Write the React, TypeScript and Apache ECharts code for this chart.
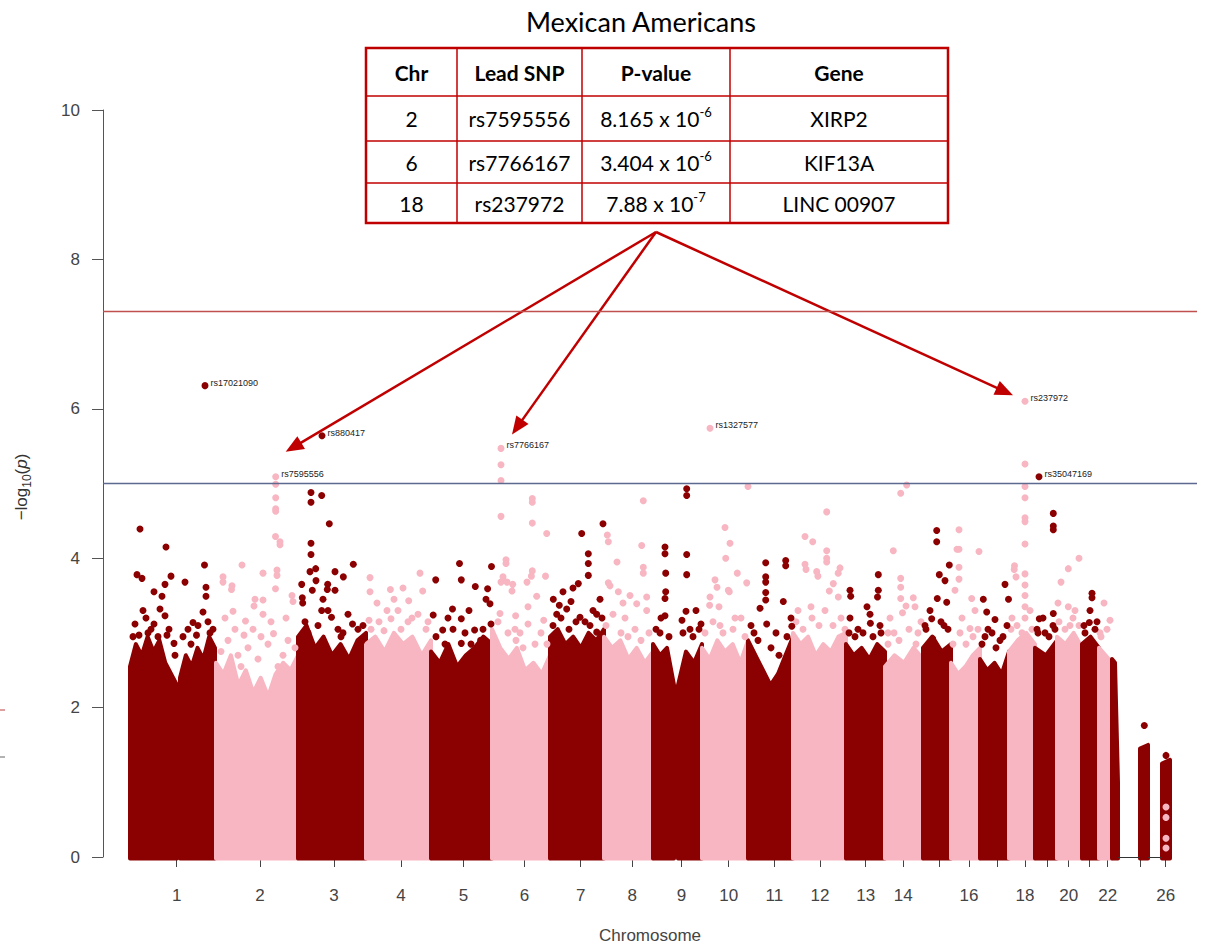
import React, { useEffect, useRef } from 'react';
import * as echarts from 'echarts';

// ---------------- DATA ----------------
// x positions are cumulative genome positions in plot units (0..1094)
const chromosomes = ['1','2','3','4','5','6','7','8','9','10','11','12','13','14','15','16','17','18','19','20','21','22','23','26'];
const chrTickPos = [73.7,157,231,298,360.5,421.5,477.7,529.3,578.5,625.7,671.3,717,762.7,800.3,836.3,866,894.7,922,944.7,965.7,986.3,1004.7,1037,1062.7];
const chrTickLabels = ['1','2','3','4','5','6','7','8','9','10','11','12','13','14','','16','','18','','20','','22','','26'];
const chrColorKey = ['d','p','d','p','d','p','d','p','d','p','d','p','d','p','d','p','d','p','d','p','d','p','d','d'];

// dense body of each chromosome: [chromosome index, start, end, top profile of -log10(p)]
const bodySegments: [number, number, number, number[]][] = [
  [0, 27, 74, [2.55, 2.85, 2.7, 2.95, 2.75, 2.9, 2.6, 2.45, 2.3]],
  [0, 77, 112, [2.4, 2.7, 2.55, 2.8, 2.65, 2.95, 2.8]],
  [1, 113, 195, [2.6, 2.45, 2.7, 2.3, 2.5, 2.2, 2.4, 2.15, 2.45, 2.6, 2.5, 2.7]],
  [2, 195, 263, [2.95, 3.1, 2.8, 2.95, 2.7, 2.85, 2.65, 2.9, 3.0]],
  [3, 263, 328, [2.85, 2.95, 2.75, 3.0, 2.85, 2.95, 2.7, 2.9]],
  [4, 328, 389, [2.75, 2.6, 2.85, 2.55, 2.7, 2.8, 2.95, 2.85]],
  [5, 389, 447, [3.05, 2.8, 2.65, 2.8, 2.5, 2.6, 2.45, 2.7]],
  [6, 447, 501, [2.95, 3.05, 2.85, 2.95, 2.8, 3.0, 2.9, 3.05]],
  [7, 501, 550, [2.95, 2.8, 2.9, 2.65, 2.8, 2.6, 2.75]],
  [8, 550, 571, [2.85, 2.7, 2.8, 2.3]],
  [8, 575, 599, [2.3, 2.75, 2.6, 2.85]],
  [9, 599, 645, [2.8, 2.65, 2.9, 2.75, 2.85, 2.6, 2.9]],
  [10, 645, 690, [2.9, 2.7, 2.5, 2.3, 2.45, 2.7, 2.95]],
  [11, 690, 743, [3.0, 2.85, 2.95, 2.7, 2.85, 2.75, 2.95, 3.0]],
  [12, 743, 782, [2.85, 2.7, 2.8, 2.65, 2.85, 2.75]],
  [13, 782, 820, [2.55, 2.7, 2.6, 2.8, 2.65]],
  [14, 820, 848, [2.8, 2.95, 2.75, 2.85]],
  [15, 848, 877, [2.6, 2.45, 2.55, 2.7, 2.8]],
  [16, 877, 906, [2.65, 2.5, 2.6, 2.45, 2.75]],
  [17, 906, 932, [2.75, 2.9, 3.0, 2.85]],
  [18, 932, 954, [2.8, 2.7, 2.9]],
  [19, 954, 979, [2.95, 2.85, 3.0, 2.8]],
  [20, 979, 996, [2.85, 2.95, 2.8]],
  [21, 996, 1009, [2.8, 2.6]],
  [22, 1009, 1015, [2.65, 2.6, 1.0]],
  [22, 1037, 1045, [1.45, 1.5]],
  [23, 1059, 1067, [1.25, 1.3]],
];

// scattered SNPs above the dense bodies: [position, -log10(p)]
const chr1Dots = [[37,4.39],[63,4.15],[34,3.78],[39,3.73],[62,3.65],[68,3.76],[51,3.55],[59,3.49],[43,3.2],[32,3.12],[51,3.12],[62,3.23],[36,2.97],[64,2.97],[71,2.86],[101.5,3.91],[82,3.68],[103,3.61],[103,3.49],[90,3.14],[100,3.28],[93.5,2.97],[85,3.05],[107,3.0],[30,2.95],[45,3.0],[55,2.95],[66,3.05],[40,3.3],[57,3.32],[48,3.05],[72,2.7],[80,2.95],[95,3.1],[105,3.15],[88,2.85],[110,3.05]];
const chr2Dots = [[172.7,4.99],[172.7,4.81],[172.7,4.66],[172.7,4.63],[172.5,4.29],[177,4.22],[177,4.18],[174,3.84],[172.5,3.59],[120,3.75],[129,3.63],[139,3.91],[160,3.8],[152,3.45],[160,3.44],[189,3.5],[128.5,3.58],[130,3.29],[151,3.36],[160,3.25],[142.5,3.16],[190,3.42],[170.5,2.99],[141,2.97],[174,3.77],[120,3.68],[118,2.75],[125,2.9],[135,2.7],[145,2.8],[155,2.65],[165,2.85],[180,2.7],[185,2.9],[192,2.8],[132,3.05],[150,3.05],[168,3.15],[183,3.2],[122,3.2],[158,2.95],[138,2.55],[175,2.55]];
const chr3Dots = [[208,4.88],[218.7,4.84],[208,4.75],[226.3,4.46],[208,4.2],[208,4.05],[250.3,3.92],[207,3.82],[212.7,3.86],[232,3.82],[240.3,3.75],[198.7,3.65],[213,3.7],[224.7,3.65],[232,3.57],[209.3,3.57],[199.3,3.47],[199.7,3.4],[218.7,3.3],[228.5,3.21],[249.5,3.12],[240,3.0],[258.3,2.88],[224.3,3.58],[202,3.15],[215,3.1],[225,3.3],[235,3.05],[245,3.25],[255,3.05],[205,3.0],[238,2.95],[260,3.1],[220,3.45]];
const chr4Dots = [[267,3.74],[267,3.55],[287.4,3.58],[317,3.8],[274,3.4],[305.7,3.43],[295,3.3],[319.7,3.56],[266,3.17],[281,3.03],[288,3.19],[309,3.2],[323,3.05],[268,3.05],[276,3.15],[284,3.3],[298,3.05],[305,3.15],[315,3.25],[325,3.15],[291,3.45],[300,3.6]];
const chr5Dots = [[356.5,3.93],[388.5,3.89],[332.7,3.71],[358.3,3.71],[372.3,3.62],[384.6,3.59],[387,3.39],[330.2,3.24],[349.5,3.32],[358.3,3.19],[388,3.12],[371.6,3.04],[339.7,3.04],[358.3,2.86],[377.6,2.9],[383,3.45],[333,2.95],[342,2.85],[350,3.05],[362,3.0],[368,2.85],[380,3.05],[345,3.2],[366,3.3]];
const chr6Dots = [[398,5.25],[398,5.04],[398,4.56],[403,3.98],[400,3.75],[429.3,4.8],[429.3,4.75],[429.3,4.47],[443.7,4.33],[429.3,3.83],[409.7,3.65],[403,3.93],[398,3.68],[404,3.68],[428.4,3.76],[442.5,3.76],[424,3.68],[409,3.56],[433.7,3.49],[397,3.26],[412.6,3.23],[440.7,3.17],[425,3.12],[417,3.0],[395,3.15],[405,3.0],[413,2.9],[420,2.8],[432,2.85],[438,3.0],[444,2.85],[425,3.35],[412,3.05]];
const chr7Dots = [[500,4.46],[478.7,4.33],[485.3,4.06],[485.3,3.93],[485.3,3.77],[475.3,3.66],[450.3,3.45],[456.3,3.37],[468,3.42],[463.7,3.32],[453.7,3.25],[477,3.21],[473,3.15],[497,3.45],[493.7,3.25],[493.7,3.01],[487,3.1],[450,3.1],[458,3.2],[466,3.05],[482,3.15],[490,3.3],[499,3.2],[460,3.55],[470,3.6]];
const chr8Dots = [[504.3,4.31],[505.3,4.22],[540.3,4.77],[538.7,4.17],[514,3.95],[540.3,3.88],[540.3,3.8],[505.3,3.67],[543.7,3.48],[507,3.63],[515.3,3.55],[533.7,3.39],[543.7,3.3],[522,3.2],[527,3.5],[503,3.1],[510,3.25],[518,3.0],[525,2.95],[532,3.05],[538,2.9],[546,3.0],[520,3.4]];
const chr9Dots = [[583.7,4.93],[583.7,4.84],[583.7,4.05],[583.7,3.78],[562,4.15],[562,4.06],[562.7,3.8],[562.7,3.55],[583,3.29],[562,3.23],[562,3.46],[579,3.17],[598,3.12],[557,3.0],[587,3.05],[593,3.3],[553,3.05],[558,3.2],[566,2.95],[580,3.0],[590,2.95],[596,3.05]];
const chr10Dots = [[645,4.96],[622,4.41],[627,4.2],[622.7,4.0],[634.3,3.8],[612,3.71],[626.3,3.55],[607,3.48],[625.3,3.57],[643.7,3.67],[614,3.61],[606.6,3.37],[632,3.2],[617,3.1],[602,3.0],[610,3.15],[620,3.0],[630,3.05],[638,3.2],[642,2.95],[616,3.35]];
const chr11Dots = [[662.7,3.94],[662.7,3.75],[662.7,3.68],[662.7,3.44],[682.7,3.97],[680.3,3.42],[657,3.33],[651,3.0],[688.8,3.09],[682.7,3.9],[662.7,3.54],[663.7,3.12],[673,3.0],[648,3.1],[655,2.9],[668,2.8],[676,2.7],[684,2.95],[688,3.2]];
const chr12Dots = [[702,4.29],[709.7,4.22],[723.7,4.62],[723.7,4.1],[723.7,4.0],[723.7,3.95],[737,3.87],[702,3.92],[713.7,3.82],[730.3,3.66],[735.3,3.48],[735.2,3.8],[714.9,3.76],[726.3,3.56],[703,3.85],[695,3.3],[709,3.2],[693,3.15],[700,3.05],[708,3.35],[716,3.1],[722,3.3],[730,3.1],[738,3.2],[742,3.05]];
const chr13Dots = [[775.3,3.78],[775.3,3.57],[747,3.57],[767,3.25],[774.5,3.48],[747.7,3.49],[767.4,3.13],[747,3.2],[755,3.05],[777,3.1],[746,3.0],[752,2.95],[760,3.0],[770,2.95],[778,3.0],[764,3.35]];
const chr14Dots = [[803.7,4.98],[797.7,4.87],[790.3,4.1],[797.7,3.73],[810.3,3.47],[797.7,3.61],[799.5,3.27],[803,3.36],[812,3.35],[787,3.2],[797.7,3.46],[785,3.0],[815,3.0],[785,2.85],[791,3.0],[796,2.9],[806,3.05],[813,2.85],[818,3.15]];
const chr15Dots = [[833.7,4.37],[833.7,4.22],[846.3,3.91],[836.3,3.78],[842,3.7],[834.3,3.46],[843.7,3.41],[828.7,3.19],[829.7,2.92],[823,3.05],[841,3.1],[822,3.1],[827,3.3],[838,3.15],[845,3.05]];
const chr16Dots = [[856,4.38],[854,4.12],[856,4.12],[856,3.88],[856,3.72],[852,3.57],[876,4.09],[868.7,3.46],[867,3.06],[859,3.2],[872,3.3],[850,2.85],[857,3.0],[863,2.85],[870,2.95],[875,3.05]];
const chr17Dots = [[902,3.65],[905.5,3.45],[880.3,3.45],[883.7,3.28],[892,3.18],[882,2.95],[897,2.9],[889,3.0],[879,2.85],[885,3.05],[893,2.8],[900,2.95],[904,3.1]];
const chr18Dots = [[922,5.26],[922,4.96],[922,4.81],[922,4.54],[922,4.49],[922,4.19],[922,3.79],[922,3.64],[922,3.5],[922,3.35],[922,3.2],[911.2,3.85],[911.5,3.9],[913,3.75],[927,3.3],[909,3.2],[908,3.05],[914,3.1],[919,3.0],[929,3.05]];
const chr19Dots = [[950.3,4.6],[950.3,4.43],[950.3,4.38],[936.3,3.19],[950.3,3.26],[950,3.1],[942,3.0],[935,3.0],[934,3.05],[940,3.2],[946,2.95],[952,3.05]];
const chr20Dots = [[965.3,3.86],[976,4.0],[958,3.68],[965.3,3.35],[972,3.3],[955,3.4],[967,3.1],[956,3.15],[962,3.05],[970,3.2],[976,3.1]];
const chr21Dots = [[989,3.53],[989,3.47],[986.3,3.14],[982,3.0],[992,3.05],[981,3.1],[987,3.3],[994,3.15]];
const chr22Dots = [[1001,3.4],[1007,3.17],[997,3.0],[998,2.95],[1004,3.05]];
const chr23Dots = [[1041.3,1.76]];
const chr26Dots = [[1063,1.36]];
const chr26PinkDots = [[1063,0.67],[1063,0.53],[1063,0.25],[1063,0.12]];
const chrDots = [chr1Dots,chr2Dots,chr3Dots,chr4Dots,chr5Dots,chr6Dots,chr7Dots,chr8Dots,chr9Dots,chr10Dots,chr11Dots,chr12Dots,chr13Dots,chr14Dots,chr15Dots,chr16Dots,chr17Dots,chr18Dots,chr19Dots,chr20Dots,chr21Dots,chr22Dots,chr23Dots,chr26Dots];

// SNPs with point labels
const leadNames = ['rs17021090','rs880417','rs7595556','rs7766167','rs1327577','rs237972','rs35047169'];
const leadChr = [0, 2, 1, 5, 9, 17, 18];
const leadPos = [102, 219, 172.7, 398, 607, 922, 936];
const leadVals = [6.31, 5.64, 5.09, 5.47, 5.74, 6.1, 5.09];

// x positions with SNPs at -log10(p) = 0 drawn as a thin line
const baselineSpans = [[1015, 1037], [1045, 1059]];

const genomeWideLine = 7.3;
const suggestiveLine = 5;

// table
const tableHeader = ['Chr', 'Lead SNP', 'P-value', 'Gene'];
const tableChr = ['2', '6', '18'];
const tableSnp = ['rs7595556', 'rs7766167', 'rs237972'];
const tablePMantissa = ['8.165 x 10', '3.404 x 10', '7.88 x 10'];
const tablePExponent = ['-6', '-6', '-7'];
const tableGene = ['XIRP2', 'KIF13A', 'LINC 00907'];
const arrowSnps = ['rs7595556', 'rs7766167', 'rs237972'];

// ---------------- STYLE / LAYOUT ----------------
const DARK = '#8B0000';
const PINK = '#F7B6C1';
const TABLE_RED = '#C00000';
const AXIS_FONT = "'Liberation Sans', Arial, sans-serif";
const TABLE_FONT = "Lato, 'Noto Sans', sans-serif";

export default function App() {
  const ref = useRef<HTMLDivElement>(null);
  useEffect(() => {
    document.body.style.margin = '0';
    const chart = echarts.init(ref.current!, null, { renderer: 'svg' });
    const colorOf = (i: number) => (chrColorKey[i] === 'd' ? DARK : PINK);

    const darkDots: number[][] = [];
    const pinkDots: number[][] = [];
    chrDots.forEach((arr, i) => arr.forEach((p) => (chrColorKey[i] === 'd' ? darkDots : pinkDots).push(p)));
    chr26PinkDots.forEach((p) => pinkDots.push(p));

    const option: any = {
      animation: false,
      grid: { left: 103, right: 20, top: 110, bottom: 95, containLabel: false },
      xAxis: {
        type: 'value', min: 0, max: 1094, offset: 4,
        axisLine: { show: false },
        splitLine: { show: false },
        axisTick: { show: true, length: 10, customValues: chrTickPos, lineStyle: { color: '#444', width: 1 } },
        axisLabel: {
          customValues: chrTickPos,
          margin: 26,
          fontSize: 17, color: '#444', fontFamily: AXIS_FONT,
          formatter: (v: number) => {
            let best = 0;
            chrTickPos.forEach((t, i) => { if (Math.abs(t - v) < Math.abs(chrTickPos[best] - v)) best = i; });
            return chrTickLabels[best];
          },
        },
        name: 'Chromosome', nameLocation: 'middle', nameGap: 66,
        nameTextStyle: { fontSize: 17, color: '#444', fontFamily: AXIS_FONT },
      },
      yAxis: {
        type: 'value', min: 0, max: 10, interval: 2,
        axisLine: { show: true, lineStyle: { color: '#555', width: 1 } },
        axisTick: { show: true, length: 11, lineStyle: { color: '#555' } },
        axisLabel: { fontSize: 17, color: '#444', margin: 23, fontFamily: AXIS_FONT },
        splitLine: { show: false },
      },
      series: [
        {
          type: 'custom', silent: true, z: 1,
          data: bodySegments.map((s) => [s[1], s[2]]),
          encode: { x: [0, 1] },
          renderItem: (params: any, api: any) => {
            const [ci, start, end, prof] = bodySegments[params.dataIndex];
            const n = prof.length;
            const pts: number[][] = [api.coord([start, -0.02])];
            prof.forEach((v, i) => pts.push(api.coord([start + ((end - start) * i) / (n - 1), v])));
            pts.push(api.coord([end, -0.02]));
            const c = colorOf(ci);
            return { type: 'polygon', shape: { points: pts }, style: { fill: c, stroke: c, lineWidth: 4, lineJoin: 'round' } };
          },
        },
        {
          type: 'scatter', silent: true, z: 2, symbolSize: 7,
          itemStyle: { color: PINK, opacity: 1 }, data: pinkDots,
        },
        {
          type: 'scatter', silent: true, z: 2, symbolSize: 7,
          itemStyle: { color: DARK, opacity: 1 }, data: darkDots,
        },
        {
          type: 'scatter', silent: true, z: 3, symbolSize: 7,
          data: leadNames.map((n, i) => ({ name: n, value: [leadPos[i], leadVals[i]], itemStyle: { color: colorOf(leadChr[i]), opacity: 1 } })),
          label: { show: true, position: 'right', distance: 2, offset: [0, -3], formatter: '{b}', fontSize: 9, color: '#222', fontFamily: AXIS_FONT },
        },
        {
          type: 'line', silent: true, z: 4, data: [], symbol: 'none',
          markLine: {
            silent: true, symbol: 'none', label: { show: false },
            data: [
              { yAxis: genomeWideLine, lineStyle: { color: '#C0504D', width: 1.3, type: 'solid' } },
              { yAxis: suggestiveLine, lineStyle: { color: '#5B6A8E', width: 1.3, type: 'solid' } },
              ...baselineSpans.map((s) => [
                { coord: [s[0], 0], lineStyle: { color: '#333', width: 1, type: 'solid' } },
                { coord: [s[1], 0] },
              ]),
            ],
          },
        },
      ],
    };
    chart.setOption(option);

    // ---- annotations ----
    const tx = [366, 457, 582, 730, 948];
    const ty = [48, 96, 141, 183, 223];
    const g: any[] = [];
    g.push({ type: 'text', style: { text: 'Mexican Americans', x: 641, y: 21, textAlign: 'center', textVerticalAlign: 'middle', fontSize: 27, fontFamily: TABLE_FONT, fill: '#000' } });
    g.push({ type: 'rect', shape: { x: tx[0], y: ty[0], width: tx[4] - tx[0], height: ty[4] - ty[0] }, style: { fill: '#fff', stroke: TABLE_RED, lineWidth: 2.5 } });
    [1, 2, 3].forEach((i) => {
      g.push({ type: 'line', shape: { x1: tx[i], y1: ty[0], x2: tx[i], y2: ty[4] }, style: { stroke: TABLE_RED, lineWidth: 1.5 } });
      g.push({ type: 'line', shape: { x1: tx[0], y1: ty[i], x2: tx[4], y2: ty[i] }, style: { stroke: TABLE_RED, lineWidth: 1.5 } });
    });
    const cx = (c: number) => (tx[c] + tx[c + 1]) / 2;
    const cy = (r: number) => (ty[r] + ty[r + 1]) / 2;
    tableHeader.forEach((h, c) => g.push({ type: 'text', style: { text: h, x: cx(c), y: cy(0), textAlign: 'center', textVerticalAlign: 'middle', fontSize: 21, fontWeight: 'bold', fontFamily: TABLE_FONT, fill: '#000' } }));
    tableChr.forEach((_, r) => {
      const row = r + 1;
      const body = { textAlign: 'center', textVerticalAlign: 'middle', fontSize: 21, fontFamily: TABLE_FONT, fill: '#000' };
      g.push({ type: 'text', style: { ...body, text: tableChr[r], x: cx(0), y: cy(row) } });
      g.push({ type: 'text', style: { ...body, text: tableSnp[r], x: cx(1), y: cy(row) } });
      g.push({ type: 'text', style: { ...body, text: tableGene[r], x: cx(3), y: cy(row) } });
      g.push({
        type: 'text',
        style: {
          text: `{m|${tablePMantissa[r]}}{e|${tablePExponent[r]}}`,
          x: cx(2), y: cy(row), textAlign: 'center', textVerticalAlign: 'middle',
          rich: {
            m: { fontSize: 21, lineHeight: 26, fontFamily: TABLE_FONT, fill: '#000', verticalAlign: 'middle' },
            e: { fontSize: 13, lineHeight: 13, fontFamily: TABLE_FONT, fill: '#000', verticalAlign: 'top' },
          },
        },
      });
    });

    // arrows from table to the lead SNPs
    const origin = [656, ty[4] + 9];
    const tipOffsets = [[10, -25], [11, -14], [-12, -6]];
    arrowSnps.forEach((name, k) => {
      const i = leadNames.indexOf(name);
      const p = chart.convertToPixel({ xAxisIndex: 0, yAxisIndex: 0 }, [leadPos[i], leadVals[i]]) as number[];
      const tip = [p[0] + tipOffsets[k][0], p[1] + tipOffsets[k][1]];
      const dx = tip[0] - origin[0];
      const dy = tip[1] - origin[1];
      const len = Math.sqrt(dx * dx + dy * dy);
      const ux = dx / len, uy = dy / len;
      const L = 18, W = 7.5;
      const bx = tip[0] - ux * L, by = tip[1] - uy * L;
      g.push({ type: 'line', shape: { x1: origin[0], y1: origin[1], x2: bx + ux * 2, y2: by + uy * 2 }, style: { stroke: TABLE_RED, lineWidth: 2.5 } });
      g.push({ type: 'polygon', shape: { points: [tip, [bx - uy * W, by + ux * W], [bx + uy * W, by - ux * W]] }, style: { fill: TABLE_RED } });
    });

    // y-axis title
    g.push({
      type: 'text', x: 21, y: 487, rotation: Math.PI / 2,
      style: {
        text: '{a|−log}{s|10}{a|(}{i|p}{a|)}', textAlign: 'center', textVerticalAlign: 'middle',
        rich: {
          a: { fontSize: 17, lineHeight: 24, fontFamily: AXIS_FONT, fill: '#333', verticalAlign: 'middle' },
          s: { fontSize: 12, lineHeight: 12, fontFamily: AXIS_FONT, fill: '#333', verticalAlign: 'bottom' },
          i: { fontSize: 17, lineHeight: 24, fontFamily: AXIS_FONT, fontStyle: 'italic', fill: '#333', verticalAlign: 'middle' },
        },
      },
    });
    // small marks on the left edge
    g.push({ type: 'line', shape: { x1: 0, y1: 710, x2: 5, y2: 710 }, style: { stroke: '#C04040', lineWidth: 1 } });
    g.push({ type: 'line', shape: { x1: 0, y1: 757, x2: 5, y2: 757 }, style: { stroke: '#666', lineWidth: 1 } });

    chart.setOption({ graphic: g });
    return () => chart.dispose();
  }, []);
  return <div ref={ref} style={{ position: 'absolute', left: 0, top: 0, width: 1217, height: 952 }} />;
}
